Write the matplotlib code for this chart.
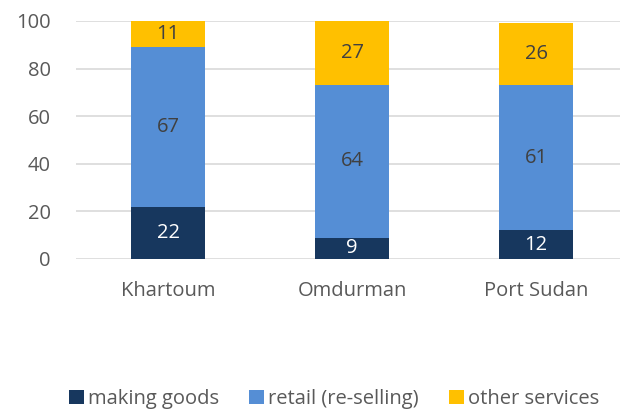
import numpy as np
import matplotlib.pyplot as plt

cities = ["Khartoum", "Omdurman", "Port Sudan"]
making_goods = [22, 9, 12]
retail = [67, 64, 61]
other_services = [11, 27, 26]

plt.rcParams['font.family'] = ['Open Sans', 'DejaVu Sans']
grey = '#595959'
fs = 14.5

fig = plt.figure(figsize=(6.2, 4.09), dpi=100)
ax = fig.add_axes([76/620, 1 - 259/409, 544/620, 238/409])

x = np.arange(len(cities))
w = 0.4
series = [
    (making_goods, 'making goods', '#17375e', 'white'),
    (retail, 'retail (re-selling)', '#558ed5', '#404040'),
    (other_services, 'other services', '#ffc000', '#404040'),
]
bottom = np.zeros(len(cities))
for vals, lab, col, tcol in series:
    vals = np.array(vals)
    ax.bar(x, vals, w, bottom=bottom, color=col, label=lab, zorder=3)
    for xi, b, v in zip(x, bottom, vals):
        ax.text(xi, b + v / 2, str(v), ha='center', va='center',
                fontsize=fs, color=tcol, zorder=4)
    bottom += vals

ax.set_ylim(0, 100)
ax.set_xlim(-0.5, 544/184 - 0.5)
ax.set_yticks(range(0, 101, 20))
ax.set_xticks(x)
ax.set_xticklabels(cities)
ax.yaxis.grid(True, color='#d9d9d9', linewidth=1.2, zorder=0)
ax.set_axisbelow(True)
for s in ax.spines.values():
    s.set_visible(False)
ax.tick_params(length=0, labelsize=fs, colors=grey)
ax.tick_params(axis='y', pad=18)
ax.tick_params(axis='x', pad=16)

ax.legend(loc='center', bbox_to_anchor=(334/620, 1 - 399/409),
          bbox_transform=fig.transFigure, ncol=3, frameon=False,
          fontsize=fs, labelcolor=grey, handlelength=0.75, handleheight=0.75,
          handletextpad=0.2, columnspacing=1.5)

fig.savefig("out.png", dpi=100)
